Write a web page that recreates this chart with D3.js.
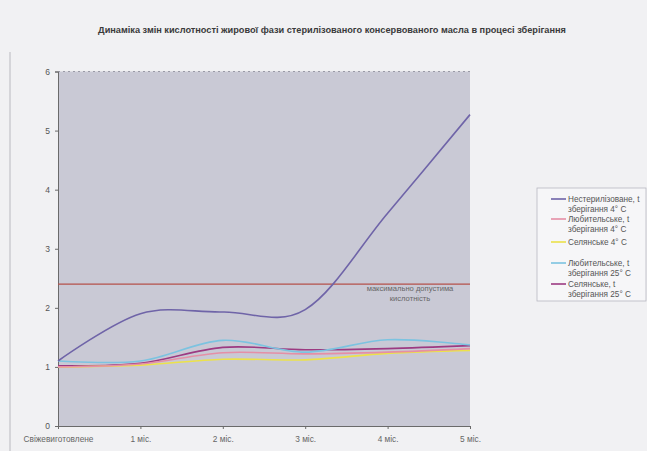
<!DOCTYPE html>
<html>
<head>
<meta charset="utf-8">
<script src="https://cdn.jsdelivr.net/npm/d3@7"></script>
<style>
  html, body { margin: 0; padding: 0; background: #f1f1f3; }
  svg { display: block; font-family: "Liberation Sans", Arial, sans-serif; }
</style>
</head>
<body>
<svg id="chart" width="647" height="451"></svg>
<script>
// Storage periods (x categories)
const categories = ["Свіжевиготовлене", "1 міс.", "2 міс.", "3 міс.", "4 міс.", "5 міс."];

// Acidity of the fat phase for each sample
const nesterilizovane4 = [1.10, 1.90, 1.93, 1.97, 3.60, 5.27];
const lyubytelske4     = [1.00, 1.05, 1.24, 1.22, 1.25, 1.31];
const selyanske4       = [1.00, 1.03, 1.13, 1.12, 1.23, 1.28];
const lyubytelske25    = [1.10, 1.10, 1.45, 1.25, 1.46, 1.37];
const selyanske25      = [1.02, 1.06, 1.33, 1.29, 1.31, 1.36];

// Maximum permissible acidity
const maxAcidity = 2.4;

const yTicks = [0, 1, 2, 3, 4, 5, 6];

const series = [
  { name: ["Нестерилізоване, t", "зберігання 4° С"], values: nesterilizovane4, color: "#6f64a8" },
  { name: ["Любительське, t", "зберігання 4° С"], values: lyubytelske4, color: "#e58fa6" },
  { name: ["Селянське 4° С"], values: selyanske4, color: "#ece24a" },
  { name: ["Любительське, t", "зберігання 25° С"], values: lyubytelske25, color: "#7cc3e0" },
  { name: ["Селянське, t", "зберігання 25° С"], values: selyanske25, color: "#9c3a82" }
];

const svg = d3.select("#chart");
const plot = { left: 58, right: 470, top: 71.5, bottom: 426 };

const x = d3.scalePoint().domain(categories).range([plot.left, plot.right]);
const y = d3.scaleLinear().domain([0, 6]).range([plot.bottom, plot.top]);

// Chart frame edge
svg.append("line")
  .attr("x1", 10).attr("x2", 10).attr("y1", 52).attr("y2", 451)
  .attr("stroke", "#b9b9bf").attr("stroke-width", 1);

// Title
svg.append("text")
  .attr("x", 332).attr("y", 33)
  .attr("text-anchor", "middle")
  .attr("font-size", 9.2).attr("font-weight", "bold").attr("fill", "#3a3a3a")
  .text("Динаміка змін кислотності жирової фази стерилізованого консервованого масла в процесі зберігання");

// Plot area
svg.append("rect")
  .attr("x", plot.left).attr("y", plot.top)
  .attr("width", plot.right - plot.left).attr("height", plot.bottom - plot.top)
  .attr("fill", "#c9c9d5");

svg.append("line")
  .attr("x1", plot.left).attr("x2", plot.right)
  .attr("y1", plot.top).attr("y2", plot.top)
  .attr("stroke", "#9a9aa6").attr("stroke-dasharray", "2,3").attr("stroke-width", 1);

// Axes
const yAxis = d3.axisLeft(y).tickValues(yTicks).tickFormat(d3.format("d")).tickSize(3).tickPadding(5);
const gy = svg.append("g").attr("transform", `translate(${plot.left},0)`).call(yAxis);
gy.select(".domain").attr("stroke", "#6a6a6a");
gy.selectAll(".tick line").attr("stroke", "#6a6a6a");
gy.selectAll(".tick text").attr("font-size", 8.5).attr("fill", "#555")
  .attr("font-family", "Liberation Sans, Arial, sans-serif");

const xAxis = d3.axisBottom(x).tickSize(3).tickPadding(7);
const gx = svg.append("g").attr("transform", `translate(0,${plot.bottom})`).call(xAxis);
gx.select(".domain").attr("stroke", "#6a6a6a");
gx.selectAll(".tick line").attr("stroke", "#6a6a6a");
gx.selectAll(".tick text").attr("font-size", 8.3).attr("fill", "#666")
  .attr("font-family", "Liberation Sans, Arial, sans-serif");

// Maximum permissible acidity line
svg.append("line")
  .attr("x1", plot.left).attr("x2", plot.right)
  .attr("y1", y(maxAcidity)).attr("y2", y(maxAcidity))
  .attr("stroke", "#b4504a").attr("stroke-width", 1.3);

const note = svg.append("text")
  .attr("x", 410).attr("y", y(maxAcidity) + 7)
  .attr("text-anchor", "middle")
  .attr("font-size", 7.6).attr("fill", "#666");
note.append("tspan").attr("x", 410).attr("dy", 0).text("максимально допустима");
note.append("tspan").attr("x", 410).attr("dy", 10).text("кислотність");

// Smoothed series lines
const line = d3.line()
  .x((d, i) => x(categories[i]))
  .y(d => y(d))
  .curve(d3.curveCardinal.tension(0));

svg.append("g").selectAll("path")
  .data(series.slice().reverse())
  .join("path")
  .attr("d", d => line(d.values))
  .attr("fill", "none")
  .attr("stroke", d => d.color)
  .attr("stroke-width", 1.6);

// Legend
const legend = svg.append("g");
legend.append("rect")
  .attr("x", 537).attr("y", 188).attr("width", 109).attr("height", 113)
  .attr("fill", "#f6f6f8").attr("stroke", "#b8b8c0").attr("stroke-width", 0.8);

const rowBaselines = [202, 222, 245, 266, 287];
const rowH = 10;
series.forEach((s, i) => {
  const y0 = rowBaselines[i];
  legend.append("line")
    .attr("x1", 551).attr("x2", 566).attr("y1", y0 - 3).attr("y2", y0 - 3)
    .attr("stroke", s.color).attr("stroke-width", 1.6);
  s.name.forEach((t, j) => {
    legend.append("text")
      .attr("x", 568).attr("y", y0 + j * rowH)
      .attr("font-size", 8.2).attr("fill", "#555")
      .text(t);
  });
});
</script>
</body>
</html>
